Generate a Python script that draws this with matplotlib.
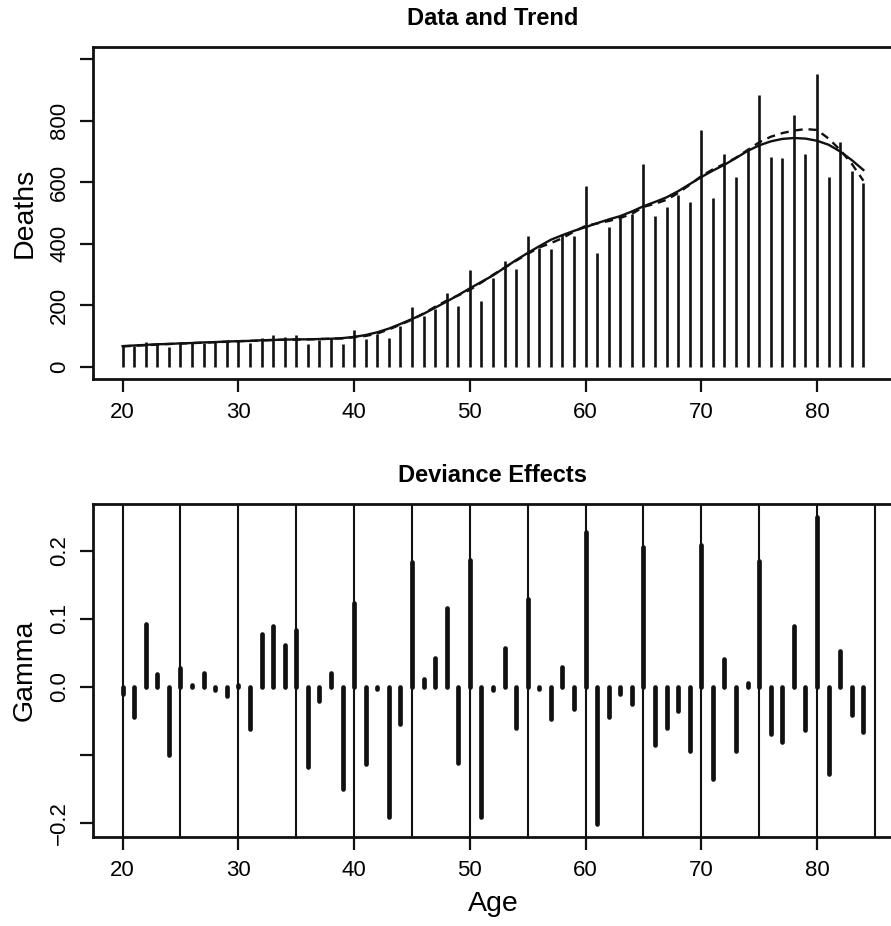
import numpy as np
import matplotlib
matplotlib.use("Agg")
import matplotlib.pyplot as plt

plt.rcParams['font.family'] = ['Liberation Sans', 'DejaVu Sans']

# ages 20..84
age = np.arange(20, 85)

deaths = [67, 67, 81, 74, 63, 76, 76, 78, 80, 80,
          83, 78, 94, 102, 97, 102, 74, 86, 94, 74,
          121, 90, 108, 92, 132, 195, 164, 188, 240, 198,
          316, 214, 290, 343, 319, 424, 387, 383, 432, 424,
          587, 371, 456, 489, 497, 659, 491, 519, 557, 535,
          771, 548, 691, 618, 707, 883, 682, 679, 819, 692,
          951, 618, 730, 638, 597]

# smooth trend (solid)
trend = [67, 69, 71, 73, 74, 76, 77, 79, 80, 82,
         83, 84, 86, 87, 88, 89, 89, 90, 91, 93,
         97, 103, 112, 124, 139, 155, 172, 192, 212, 233,
         255, 276, 297, 322, 347, 370, 392, 413, 428, 442,
         454, 467, 479, 490, 505, 522, 536, 551, 571, 594,
         617, 638, 657, 679, 702, 720, 733, 741, 744, 742,
         735, 722, 700, 672, 640]

# trend with deviance effects (dashed)
trend2 = [66, 68, 70, 72, 74, 75, 77, 78, 80, 81,
          83, 84, 85, 87, 88, 88, 89, 90, 91, 92,
          96, 100, 108, 121, 137, 153, 173, 195, 215, 232,
          250, 274, 299, 322, 345, 367, 388, 402, 418, 440,
          458, 466, 474, 484, 497, 520, 530, 543, 565, 592,
          620, 642, 660, 680, 705, 730, 748, 760, 768, 773,
          770, 742, 705, 660, 605]

# deviance effects
gamma = [-0.010, -0.045, 0.092, 0.019, -0.101, 0.027, 0.003, 0.020, -0.004, -0.013,
         0.002, -0.062, 0.077, 0.089, 0.062, 0.084, -0.118, -0.021, 0.020, -0.151,
         0.124, -0.113, -0.003, -0.192, -0.055, 0.183, 0.011, 0.042, 0.116, -0.112,
         0.186, -0.192, -0.005, 0.057, -0.061, 0.129, -0.003, -0.048, 0.029, -0.032,
         0.228, -0.202, -0.044, -0.011, -0.026, 0.206, -0.085, -0.061, -0.036, -0.095,
         0.208, -0.136, 0.041, -0.094, 0.005, 0.185, -0.069, -0.081, 0.089, -0.063,
         0.250, -0.128, 0.053, -0.042, -0.066]

vgrid = np.arange(20, 90, 5)

W, H = 891, 926
fig = plt.figure(figsize=(W/100, H/100), dpi=100)

ax1 = fig.add_axes([93/W, 1-379/H, 800/W, 332/H])
ax2 = fig.add_axes([93/W, 1-837/H, 800/W, 333/H])

ink = '#111111'

# top panel
ax1.vlines(age, 0, deaths, color=ink, lw=1.9)
ax1.plot(age, trend, color=ink, lw=1.7)
ax1.plot(age, trend2, color=ink, lw=1.7, ls=(0, (3.5, 2.5)))
ax1.set_xlim(17.44, 86.56)
ax1.set_ylim(-40, 1040)
ax1.set_yticks([0, 200, 400, 600, 800, 1000])
ax1.set_yticklabels(['0', '200', '400', '600', '800', ''])
ax1.set_ylabel('Deaths', fontsize=20.5, labelpad=8)
ax1.set_title('Data and Trend', fontsize=17, fontweight='bold', pad=16)

# bottom panel
for v in vgrid:
    ax2.axvline(v, color=ink, lw=1.5)
ax2.vlines(age, 0, gamma, color=ink, lw=3.4, capstyle='round')
ax2.set_xlim(17.44, 86.56)
ax2.set_ylim(-0.221, 0.269)
ax2.set_yticks([-0.2, -0.1, 0.0, 0.1, 0.2])
ax2.set_yticklabels(['\u22120.2', '', '0.0', '0.1', '0.2'])
ax2.set_ylabel('Gamma', fontsize=20.5, labelpad=8)
ax2.set_xlabel('Age', fontsize=20.5, labelpad=7)
ax2.set_title('Deviance Effects', fontsize=17, fontweight='bold', pad=16)

for ax in (ax1, ax2):
    ax.set_xticks([20, 30, 40, 50, 60, 70, 80])
    ax.tick_params(direction='out', length=9.5, width=1.6, labelsize=16,
                   color=ink, pad=7)
    for lab in ax.get_yticklabels():
        lab.set_rotation(90)
        lab.set_va('center')
    for s in ax.spines.values():
        s.set_linewidth(2.0)
        s.set_color(ink)

fig.savefig('out.png', dpi=100)
